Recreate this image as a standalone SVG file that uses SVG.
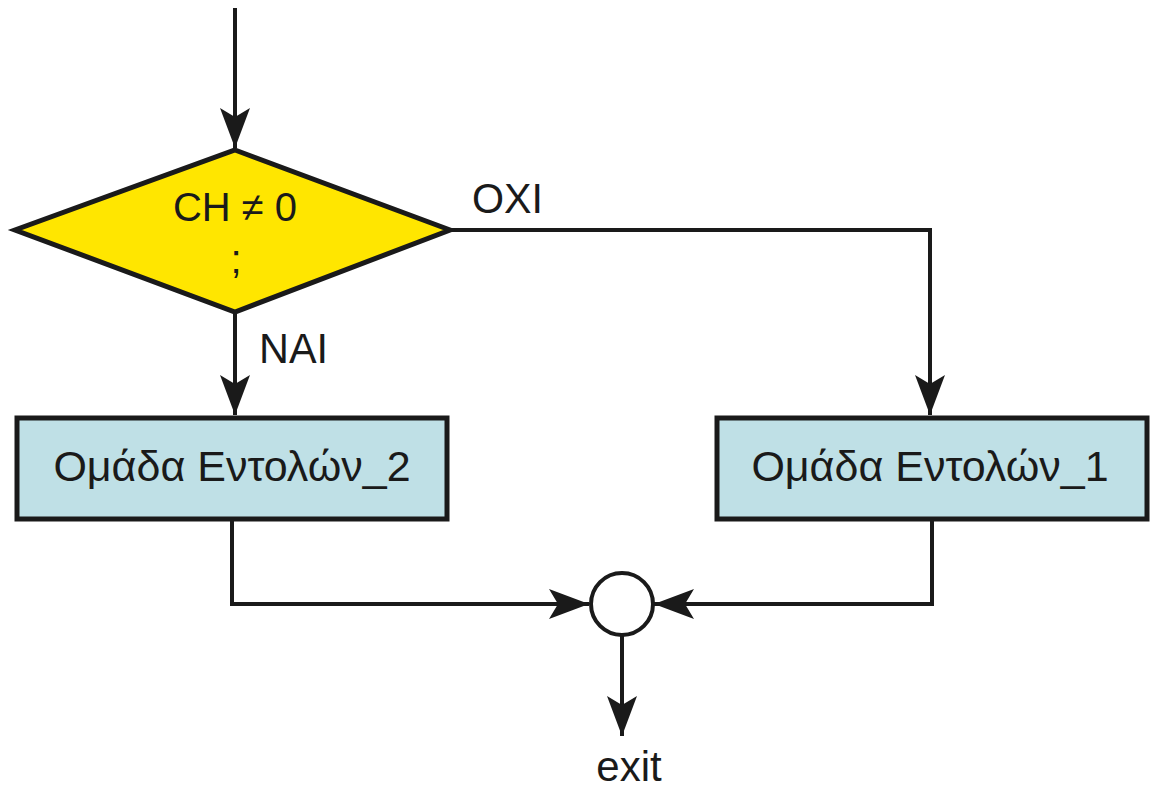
<svg xmlns="http://www.w3.org/2000/svg" width="1153" height="792" viewBox="0 0 1153 792">
<defs>
<style>
.t{font-family:"Liberation Sans",Arial,sans-serif;fill:#1a1a1a;}
.ln{fill:none;stroke:#1a1a1a;stroke-width:4;}
.box{fill:#bfe0e6;stroke:#1a1a1a;stroke-width:5;}
</style>
<marker id="ah" viewBox="0 0 40 30" refX="40" refY="15" markerWidth="40" markerHeight="30" markerUnits="userSpaceOnUse" orient="auto">
<path d="M0,0 L40,15 L0,30 L9,15 Z" fill="#1a1a1a"/>
</marker>
</defs>
<rect width="1153" height="792" fill="#fff"/>
<g id="connectors">
<line class="ln" x1="235" y1="8" x2="235" y2="148" marker-end="url(#ah)"/>
<polyline class="ln" points="450,230 930,230 930,415" marker-end="url(#ah)"/>
<line class="ln" x1="235" y1="312" x2="235" y2="415" marker-end="url(#ah)"/>
<polyline class="ln" points="232,520 232,604 589,604" marker-end="url(#ah)"/>
<polyline class="ln" points="932,520 932,604 654,604" marker-end="url(#ah)"/>
<line class="ln" x1="622" y1="636" x2="622" y2="736" marker-end="url(#ah)"/>
</g>
<g id="decision">
<polygon points="235,150 450,230 235,312 15,230" fill="#ffe600" stroke="#1a1a1a" stroke-width="5" stroke-linejoin="miter"/>
<text class="t" x="235" y="221" font-size="40" text-anchor="middle">CH ≠ 0</text>
<text class="t" x="236" y="273" font-size="40" text-anchor="middle">;</text>
</g>
<g id="labels">
<text class="t" x="472" y="213" font-size="42" textLength="71" lengthAdjust="spacingAndGlyphs">ΟΧΙ</text>
<text class="t" x="259" y="363" font-size="42" textLength="69" lengthAdjust="spacingAndGlyphs">ΝΑΙ</text>
</g>
<g id="group2">
<rect class="box" x="17" y="418" width="430" height="101"/>
<text class="t" x="232" y="481" font-size="43" text-anchor="middle">Ομάδα Εντολών_2</text>
</g>
<g id="group1">
<rect class="box" x="717" y="418" width="430" height="101"/>
<text class="t" x="930" y="481" font-size="43" text-anchor="middle">Ομάδα Εντολών_1</text>
</g>
<g id="merge">
<circle cx="622" cy="604" r="31" fill="#fff" stroke="#1a1a1a" stroke-width="4"/>
</g>
<g id="exit">
<text class="t" x="629" y="781" font-size="42" text-anchor="middle">exit</text>
</g>
</svg>
